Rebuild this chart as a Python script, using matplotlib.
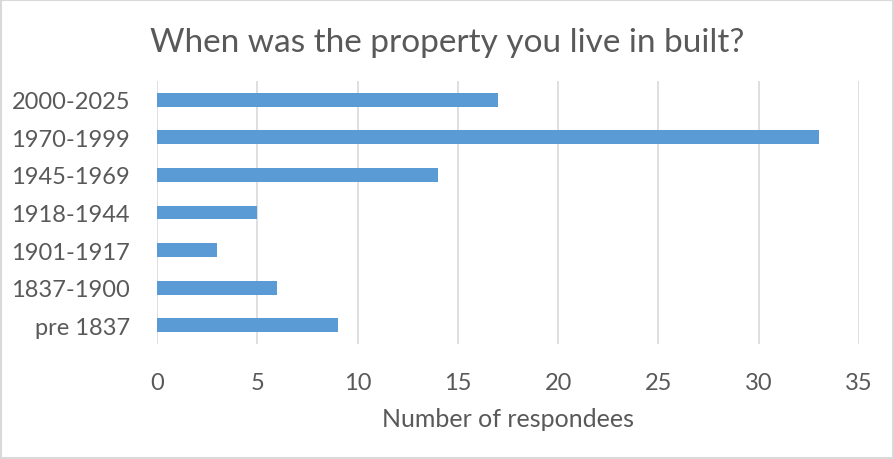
import matplotlib.pyplot as plt
from matplotlib.patches import Rectangle

# Données du graphique
periods = ['pre 1837', '1837-1900', '1901-1917', '1918-1944', '1945-1969', '1970-1999', '2000-2025']
respondees = [9, 6, 3, 5, 14, 33, 17]
x_ticks = [0, 5, 10, 15, 20, 25, 30, 35]

text_grey = '#595959'
grid_grey = '#D9D9D9'
bar_blue = '#5B9BD5'

plt.rcParams['font.family'] = ['Lato', 'DejaVu Sans']

fig = plt.figure(figsize=(8.95, 4.6), dpi=100)
ax = fig.add_axes([157 / 895, 1 - 345 / 460, (859 - 157) / 895, (345 - 82) / 460])

ax.barh(periods, respondees, height=0.37, color=bar_blue, zorder=3)
ax.set_xlim(0, 35)
ax.set_ylim(-0.5, len(periods) - 0.5)
ax.set_xticks(x_ticks)
ax.grid(axis='x', color=grid_grey, linewidth=1.2, zorder=0)
for side in ax.spines.values():
    side.set_visible(False)
ax.tick_params(axis='both', length=0, labelsize=17, labelcolor=text_grey)
ax.tick_params(axis='x', pad=20)
ax.tick_params(axis='y', pad=19.5)
ax.set_xlabel('Number of respondees', fontsize=18, color=text_grey, labelpad=10)

fig.suptitle('When was the property you live in built?', fontsize=24, color=text_grey,
             x=0.5, y=0.94, va='top')

# bordure du graphique
fig.patches.append(Rectangle((0.001, 0.002), 0.997, 0.996, transform=fig.transFigure,
                             fill=False, edgecolor=grid_grey, linewidth=1.5))

fig.savefig('out.png', dpi=100)
plt.close()
